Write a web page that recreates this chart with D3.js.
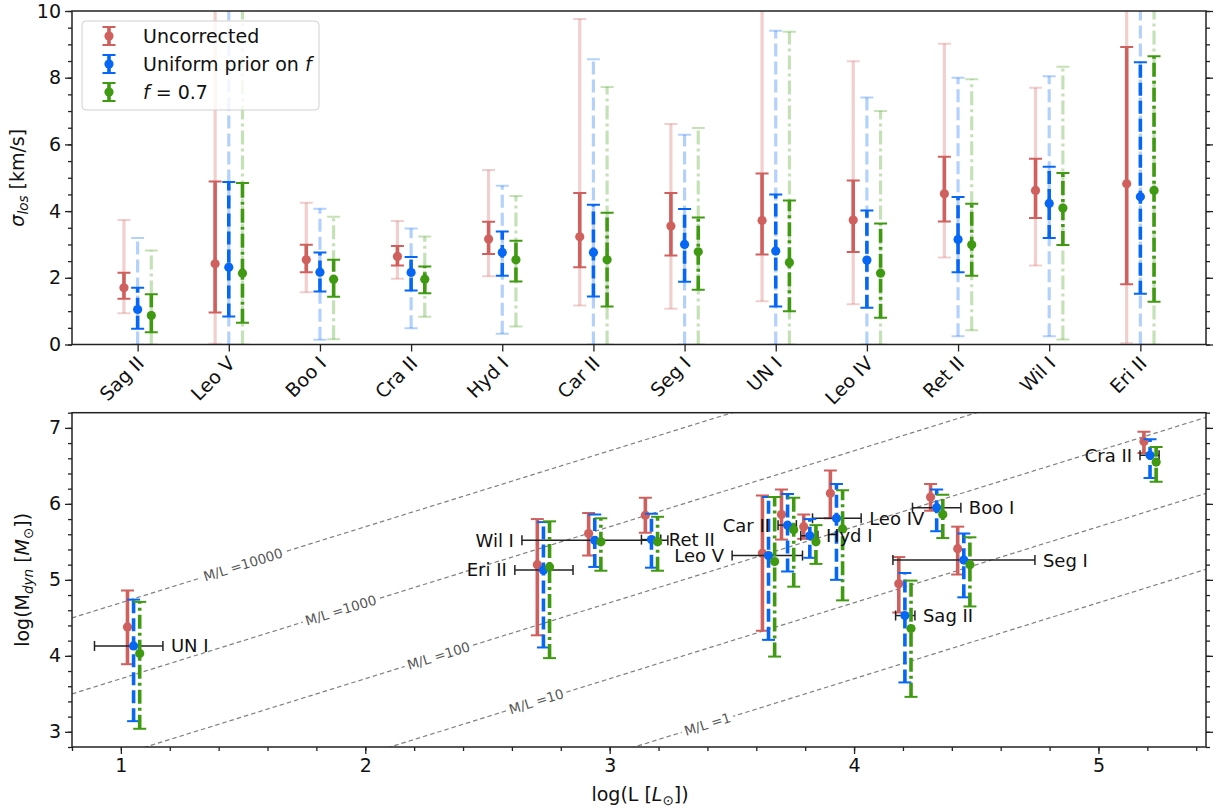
<!DOCTYPE html>
<html>
<head>
<meta charset="utf-8">
<script src="https://cdn.jsdelivr.net/npm/d3@7"></script>
<style>
  body { margin: 0; background: #fff; }
  svg { font-family: "DejaVu Sans", sans-serif; }
</style>
</head>
<body>
<svg id="fig" width="1219" height="809"></svg>
<script>
// ---- top panel: velocity dispersion per galaxy ----
const topCats = ["Sag II","Leo V","Boo I","Cra II","Hyd I","Car II","Seg I","UN I","Leo IV","Ret II","Wil I","Eri II"];

// Uncorrected
const uncSig   = [1.70, 2.42, 2.54, 2.64, 3.16, 3.23, 3.55, 3.72, 3.73, 4.52, 4.62, 4.82];
const uncLo1   = [1.37, 0.96, 2.17, 2.37, 2.71, 2.32, 2.67, 2.70, 2.77, 3.69, 3.79, 1.81];
const uncHi1   = [2.15, 4.89, 2.99, 2.95, 3.68, 4.54, 4.54, 5.13, 4.92, 5.63, 5.57, 8.92];
const uncLo2   = [0.94, 0.02, 1.57, 1.97, 2.05, 1.17, 1.07, 1.30, 1.21, 2.61, 2.37, 0.04];
const uncHi2   = [3.73, 11.0, 4.25, 3.70, 5.23, 9.76, 6.61, 11.0, 8.49, 9.02, 7.70, 11.0];
// Uniform prior on f
const uniSig   = [1.05, 2.32, 2.17, 2.16, 2.76, 2.76, 3.00, 2.80, 2.53, 3.15, 4.23, 4.43];
const uniLo1   = [0.47, 0.84, 1.59, 1.62, 2.06, 1.44, 1.88, 1.14, 1.10, 2.17, 3.19, 1.52];
const uniHi1   = [1.70, 4.87, 2.76, 2.62, 3.39, 4.19, 4.06, 4.50, 4.02, 4.42, 5.33, 8.46];
const uniLo2   = [0.00, 0.00, 0.14, 0.49, 0.32, 0.00, 0.00, 0.00, 0.00, 0.25, 0.25, 0.00];
const uniHi2   = [3.19, 11.0, 4.07, 3.48, 4.76, 8.55, 6.29, 9.41, 7.41, 8.00, 8.04, 11.0];
// f = 0.7
const f07Sig   = [0.87, 2.14, 1.96, 1.96, 2.54, 2.54, 2.78, 2.46, 2.14, 2.99, 4.09, 4.62];
const f07Lo1   = [0.37, 0.65, 1.43, 1.54, 1.89, 1.14, 1.64, 1.00, 0.80, 2.06, 2.98, 1.28];
const f07Hi1   = [1.51, 4.84, 2.54, 2.34, 3.11, 3.95, 3.81, 4.32, 3.63, 4.22, 5.14, 8.64];
const f07Lo2   = [0.00, 0.00, 0.16, 0.83, 0.54, 0.00, 0.00, 0.00, 0.00, 0.43, 0.15, 0.00];
const f07Hi2   = [2.82, 11.0, 3.83, 3.24, 4.45, 7.72, 6.49, 9.38, 7.00, 7.95, 8.33, 11.0];

// ---- bottom panel: dynamical mass vs luminosity ----
const galNames = ["UN I","Eri II","Wil I","Ret II","Leo V","Car II","Hyd I","Leo IV","Sag II","Boo I","Seg I","Cra II"];
const galSide  = ["r","l","l","r","l","l","r","r","r","r","r","l"];
const logL     = [1.052, 2.729, 2.939, 3.171, 3.650, 3.728, 3.819, 3.928, 4.208, 4.338, 4.449, 5.211];
const logLlo   = [0.892, 2.612, 2.641, 3.130, 3.501, 3.689, 3.782, 3.830, 4.170, 4.239, 4.159, 5.170];
const logLhi   = [1.172, 2.850, 3.238, 3.209, 3.789, 3.764, 3.852, 4.029, 4.249, 4.437, 4.740, 5.248];

const uncM     = [4.38, 5.20, 5.61, 5.85, 5.35, 5.86, 5.70, 6.14, 4.95, 6.09, 5.41, 6.82];
const uncMlo   = [3.89, 4.27, 5.32, 5.62, 4.33, 5.53, 5.54, 5.81, 4.57, 5.91, 5.07, 6.67];
const uncMhi   = [4.86, 5.80, 5.88, 6.08, 6.11, 6.19, 5.86, 6.44, 5.30, 6.26, 5.70, 6.95];
const uniM     = [4.13, 5.13, 5.52, 5.53, 5.32, 5.72, 5.58, 5.81, 4.53, 5.95, 5.26, 6.64];
const uniMlo   = [3.14, 4.11, 5.17, 5.16, 4.21, 5.11, 5.29, 5.00, 3.65, 5.64, 4.77, 6.34];
const uniMhi   = [4.74, 5.76, 5.86, 5.87, 6.09, 6.13, 5.80, 6.26, 5.09, 6.19, 5.61, 6.85];
const f07M     = [4.03, 5.17, 5.50, 5.50, 5.24, 5.66, 5.50, 5.67, 4.36, 5.86, 5.20, 6.55];
const f07Mlo   = [3.04, 3.97, 5.12, 5.12, 3.99, 4.91, 5.21, 4.73, 3.46, 5.55, 4.65, 6.29];
const f07Mhi   = [4.71, 5.77, 5.81, 5.83, 6.09, 6.08, 5.72, 6.18, 4.99, 6.12, 5.56, 6.75];

// M/L reference lines and where their labels sit (in log L)
const mlValues = [10000, 1000, 100, 10, 1];
const mlLabelX = [1.5, 1.9, 2.3, 2.7, 3.4];

const colRed = "#d0605e", colBlue = "#0767f5", colGreen = "#3f9a12";
const DASH = "13,5", DASHDOT = "14,4,3,4";
const FS = 19;

const svg = d3.select("#fig");
const defs = svg.append("defs");

// generic vertical error bar
function vbar(g, x, y0, y1, color, dash, lw, op, capW) {
  g.append("line").attr("x1", x).attr("x2", x).attr("y1", y0).attr("y2", y1)
    .attr("stroke", color).attr("stroke-width", lw).attr("stroke-opacity", op)
    .attr("stroke-dasharray", dash);
  [y0, y1].forEach(y => g.append("line")
    .attr("x1", x - capW).attr("x2", x + capW).attr("y1", y).attr("y2", y)
    .attr("stroke", color).attr("stroke-width", 2).attr("stroke-opacity", op));
}

function spines(g, x0, x1, y0, y1) {
  g.append("rect").attr("x", x0).attr("y", y0).attr("width", x1 - x0).attr("height", y1 - y0)
    .attr("fill", "none").attr("stroke", "#222").attr("stroke-width", 1.5);
}

function styleAxis(sel, fs) {
  sel.select(".domain").remove();
  sel.selectAll(".tick line").attr("stroke", "#222").attr("stroke-width", 1.3);
  sel.selectAll(".tick text").attr("font-size", fs).attr("fill", "#111")
    .attr("font-family", "DejaVu Sans");
}

// ================= TOP PANEL =================
const T = {l: 72, r: 1206, t: 11, b: 344.5};
const xTop = d3.scaleLinear().domain([-0.72, 11.72]).range([T.l, T.r]);
const yTop = d3.scaleLinear().domain([0, 10]).range([T.b, T.t]);

defs.append("clipPath").attr("id", "clipTop").append("rect")
  .attr("x", T.l).attr("y", T.t).attr("width", T.r - T.l).attr("height", T.b - T.t);

const gTop = svg.append("g");
const gTopData = gTop.append("g").attr("clip-path", "url(#clipTop)");

const topSeries = [
  {sig: uncSig, lo1: uncLo1, hi1: uncHi1, lo2: uncLo2, hi2: uncHi2, col: colRed,   dash: null,    off: -0.15},
  {sig: uniSig, lo1: uniLo1, hi1: uniHi1, lo2: uniLo2, hi2: uniHi2, col: colBlue,  dash: DASH,    off: 0},
  {sig: f07Sig, lo1: f07Lo1, hi1: f07Hi1, lo2: f07Lo2, hi2: f07Hi2, col: colGreen, dash: DASHDOT, off: 0.15}
];
topSeries.forEach(s => {
  topCats.forEach((c, i) => {
    const x = xTop(i + s.off);
    const g = gTopData.append("g");
    vbar(g, x, yTop(s.lo2[i]), yTop(s.hi2[i]), s.col, s.dash, 3.2, 0.3, 6.5);
    vbar(g, x, yTop(s.lo1[i]), yTop(s.hi1[i]), s.col, s.dash, 3.6, 1, 6.5);
    g.append("circle").attr("cx", x).attr("cy", yTop(s.sig[i])).attr("r", 4.6).attr("fill", s.col);
  });
});

// axes
const axL = gTop.append("g").attr("transform", `translate(${T.l},0)`)
  .call(d3.axisLeft(yTop).tickValues([0, 2, 4, 6, 8, 10]).tickSize(7).tickPadding(4).tickFormat(d3.format("d")));
styleAxis(axL, FS);
const axLm = gTop.append("g").attr("transform", `translate(${T.l},0)`)
  .call(d3.axisLeft(yTop).tickValues(d3.range(0, 10.01, 0.5)).tickSize(4).tickFormat(""));
styleAxis(axLm, 10);
const axR = gTop.append("g").attr("transform", `translate(${T.r},0)`)
  .call(d3.axisRight(yTop).tickValues([0, 2, 4, 6, 8, 10]).tickSize(7).tickFormat(""));
styleAxis(axR, 10);
const axRm = gTop.append("g").attr("transform", `translate(${T.r},0)`)
  .call(d3.axisRight(yTop).tickValues(d3.range(0, 10.01, 0.5)).tickSize(4).tickFormat(""));
styleAxis(axRm, 10);
const axB = gTop.append("g").attr("transform", `translate(0,${T.b})`)
  .call(d3.axisBottom(xTop).tickValues(d3.range(topCats.length)).tickSize(7).tickFormat(i => topCats[i]));
styleAxis(axB, FS);
axB.selectAll(".tick text")
  .attr("text-anchor", "end").attr("dy", null).attr("y", 0)
  .attr("transform", "translate(7,20) rotate(-45)");
spines(gTop, T.l, T.r, T.t, T.b);

// y label
const ylT = gTop.append("text").attr("transform", `translate(24,${(T.t + T.b) / 2}) rotate(-90)`)
  .attr("text-anchor", "middle").attr("font-size", FS).attr("fill", "#111");
ylT.append("tspan").attr("font-style", "italic").text("σ");
ylT.append("tspan").attr("font-style", "italic").attr("font-size", 13.5).attr("dy", 4).text("los");
ylT.append("tspan").attr("dy", -4).text(" [km/s]");

// legend
const leg = gTop.append("g");
leg.append("rect").attr("x", 82).attr("y", 21).attr("width", 237).attr("height", 89).attr("rx", 4)
  .attr("fill", "#fff").attr("fill-opacity", 0.8).attr("stroke", "#d0d0d0");
const legRows = [
  {col: colRed, dash: null, y: 36, parts: [["Uncorrected", false]]},
  {col: colBlue, dash: DASH, y: 64, parts: [["Uniform prior on ", false], ["f", true]]},
  {col: colGreen, dash: DASHDOT, y: 92, parts: [["f", true], [" = 0.7", false]]}
];
legRows.forEach(r => {
  const g = leg.append("g");
  vbar(g, 109, r.y - 9, r.y + 9, r.col, null, 3.6, 1, 6.5);
  g.append("circle").attr("cx", 109).attr("cy", r.y).attr("r", 4.6).attr("fill", r.col);
  const t = g.append("text").attr("x", 143).attr("y", r.y).attr("dy", "0.36em")
    .attr("font-size", FS).attr("fill", "#111");
  r.parts.forEach(p => t.append("tspan").attr("font-style", p[1] ? "italic" : null).text(p[0]));
});

// ================= BOTTOM PANEL =================
const B = {l: 72, r: 1206, t: 412.7, b: 747};
const xBot = d3.scaleLinear().domain([0.8, 5.44]).range([B.l, B.r]);
const yBot = d3.scaleLinear().domain([2.8, 7.2]).range([B.b, B.t]);

defs.append("clipPath").attr("id", "clipBot").append("rect")
  .attr("x", B.l).attr("y", B.t).attr("width", B.r - B.l).attr("height", B.b - B.t);

const gBot = svg.append("g");
const gLines = gBot.append("g").attr("clip-path", "url(#clipBot)");

// M/L lines: log M = log L + log(M/L) - log 2
const pxSlope = (yBot(1) - yBot(0)) / (xBot(1) - xBot(0));
const ang = Math.atan(pxSlope) * 180 / Math.PI;
mlValues.forEach((ml, k) => {
  const c = Math.log10(ml) - Math.log10(2);
  gLines.append("line")
    .attr("x1", xBot(0.8)).attr("y1", yBot(0.8 + c))
    .attr("x2", xBot(5.44)).attr("y2", yBot(5.44 + c))
    .attr("stroke", "#808080").attr("stroke-width", 1.2).attr("stroke-dasharray", "4.5,3");
  const lx = xBot(mlLabelX[k]), ly = yBot(mlLabelX[k] + c);
  const lg = gLines.append("g").attr("transform", `translate(${lx},${ly}) rotate(${ang})`);
  const bg = lg.append("rect").attr("fill", "#fff");
  const tx = lg.append("text").attr("text-anchor", "middle").attr("dy", "0.35em")
    .attr("font-size", 13.5).attr("fill", "#555").text("M/L =" + ml);
  const w = tx.node().getComputedTextLength();
  bg.attr("x", -w / 2 - 3).attr("y", -6).attr("width", w + 6).attr("height", 12);
});

const gPts = gBot.append("g").attr("clip-path", "url(#clipBot)");
const dOff = 0.025;
function massSeries(M, lo, hi, col, dash, off) {
  galNames.forEach((n, i) => {
    const x = xBot(logL[i] + off);
    const g = gPts.append("g");
    vbar(g, x, yBot(lo[i]), yBot(hi[i]), col, dash, 3.6, 1, 6.5);
    g.append("circle").attr("cx", x).attr("cy", yBot(M[i])).attr("r", 4.6).attr("fill", col);
  });
}
massSeries(uncM, uncMlo, uncMhi, colRed, null, -dOff);
// horizontal luminosity error bars
galNames.forEach((n, i) => {
  const y = yBot(uniM[i]);
  const g = gPts.append("g").attr("stroke", "#222").attr("stroke-width", 1.5);
  g.append("line").attr("x1", xBot(logLlo[i])).attr("x2", xBot(logLhi[i])).attr("y1", y).attr("y2", y);
  [logLlo[i], logLhi[i]].forEach(v => g.append("line")
    .attr("x1", xBot(v)).attr("x2", xBot(v)).attr("y1", y - 5).attr("y2", y + 5));
});
massSeries(uniM, uniMlo, uniMhi, colBlue, DASH, 0);
massSeries(f07M, f07Mlo, f07Mhi, colGreen, DASHDOT, dOff);

// galaxy labels
galNames.forEach((n, i) => {
  const right = galSide[i] === "r";
  gBot.append("text")
    .attr("x", right ? xBot(logLhi[i]) + 8 : xBot(logLlo[i]) - 8)
    .attr("y", yBot(uniM[i])).attr("dy", "0.36em")
    .attr("text-anchor", right ? "start" : "end")
    .attr("font-size", 18).attr("fill", "#111").text(n);
});

// axes
const bL = gBot.append("g").attr("transform", `translate(${B.l},0)`)
  .call(d3.axisLeft(yBot).tickValues([3, 4, 5, 6, 7]).tickSize(7).tickPadding(4).tickFormat(d3.format("d")));
styleAxis(bL, FS);
const bLm = gBot.append("g").attr("transform", `translate(${B.l},0)`)
  .call(d3.axisLeft(yBot).tickValues(d3.range(2.8, 7.21, 0.2)).tickSize(4).tickFormat(""));
styleAxis(bLm, 10);
const bR = gBot.append("g").attr("transform", `translate(${B.r},0)`)
  .call(d3.axisRight(yBot).tickValues([3, 4, 5, 6, 7]).tickSize(7).tickFormat(""));
styleAxis(bR, 10);
const bRm = gBot.append("g").attr("transform", `translate(${B.r},0)`)
  .call(d3.axisRight(yBot).tickValues(d3.range(2.8, 7.21, 0.2)).tickSize(4).tickFormat(""));
styleAxis(bRm, 10);
const bB = gBot.append("g").attr("transform", `translate(0,${B.b})`)
  .call(d3.axisBottom(xBot).tickValues([1, 2, 3, 4, 5]).tickSize(7).tickPadding(5).tickFormat(d3.format("d")));
styleAxis(bB, FS);
const bBm = gBot.append("g").attr("transform", `translate(0,${B.b})`)
  .call(d3.axisBottom(xBot).tickValues(d3.range(0.8, 5.44, 0.2)).tickSize(4).tickFormat(""));
styleAxis(bBm, 10);
spines(gBot, B.l, B.r, B.t, B.b);

// axis labels
const ylB = gBot.append("text").attr("transform", `translate(29,${(B.t + B.b) / 2}) rotate(-90)`)
  .attr("text-anchor", "middle").attr("font-size", FS).attr("fill", "#111");
ylB.append("tspan").text("log(M");
ylB.append("tspan").attr("font-style", "italic").attr("font-size", 13.5).attr("dy", 4).text("dyn");
ylB.append("tspan").attr("dy", -4).text(" [");
ylB.append("tspan").attr("font-style", "italic").text("M");
ylB.append("tspan").attr("font-size", 13.5).attr("dy", 4).text("⊙");
ylB.append("tspan").attr("dy", -4).text("])");

const xlB = gBot.append("text").attr("x", (B.l + B.r) / 2 + 1).attr("y", 801)
  .attr("text-anchor", "middle").attr("font-size", FS).attr("fill", "#111");
xlB.append("tspan").text("log(L [");
xlB.append("tspan").attr("font-style", "italic").text("L");
xlB.append("tspan").attr("font-size", 13.5).attr("dy", 4).text("⊙");
xlB.append("tspan").attr("dy", -4).text("])");
</script>
</body>
</html>
